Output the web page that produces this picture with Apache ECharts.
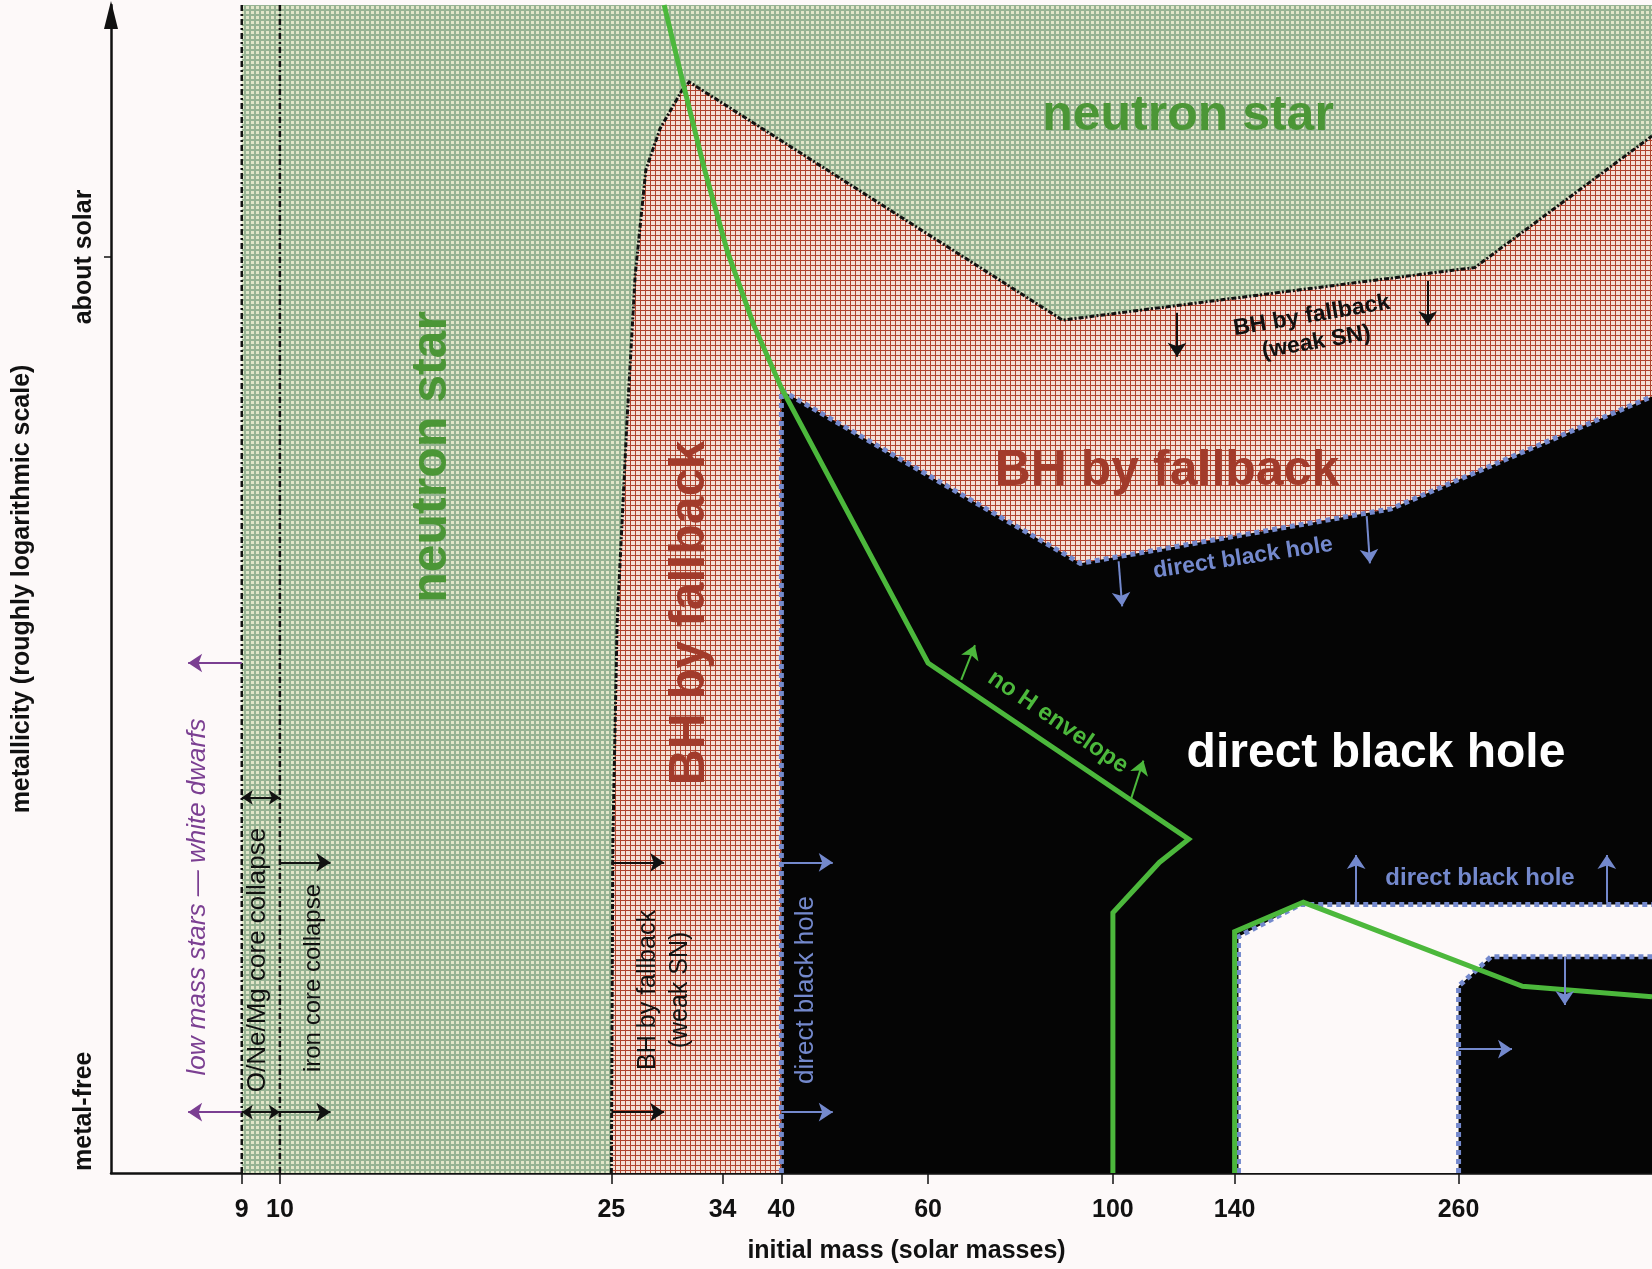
<!DOCTYPE html>
<html><head><meta charset="utf-8">
<script src="https://cdn.jsdelivr.net/npm/echarts@6/dist/echarts.min.js"></script>
<style>html,body{margin:0;padding:0;background:#fdf9f9}#c{width:1652px;height:1269px}</style>
</head><body><div id="c"></div>
<script>
// ---------- data ----------
const massTicks = [9, 10, 25, 34, 40, 60, 100, 140, 260];
const metallicityTickValues = [1];
const metallicityLabelValues = [0.0674, 1];
const metallicityLabelTexts = ['metal-free', 'about solar'];
const massMin = 6.27, massMax = 443.8, metalTop = 1.275;

const neutronStarRegion = [[9, 0], [9, 1.275], [443.8, 1.275], [443.8, 0]];
const fallbackBoundary = [[25, 0], [25.1, 0.36], [25.4, 0.6], [26.1, 0.82], [26.7, 0.98], [27.5, 1.095], [28.6, 1.14], [30.4, 1.182], [31.0, 1.191], [87, 0.931], [272, 0.9885], [443.8, 1.132]];
const directBoundary = [[40, 0], [40, 0.8545], [91.4, 0.6655], [215.7, 0.725], [443.8, 0.8477]];
const pairUpperBoundary = [[141.5, 0], [141.5, 0.258], [168, 0.2932], [443.8, 0.2932]];
const pairLowerBoundary = [[260, 0], [260, 0.2039], [284.4, 0.236], [443.8, 0.236]];
const lowMassLine = [[9, 0], [9, 1.275]];
const ironLine = [[10, 0], [10, 1.275]];
const noHEnvelopeLine = [[28.93, 1.275], [30.49, 1.189], [32.31, 1.097], [34.45, 1.006], [37.06, 0.9255], [40, 0.857], [60, 0.5567], [123.3, 0.3643], [113.7, 0.339], [100, 0.284], [100, 0]];
const noHEnvelopeLine2 = [[140, 0], [140, 0.2635], [169.3, 0.2955], [310.3, 0.2039], [443.8, 0.1924]];

const purpleArrows = [[[9, 0.5567], [7.76, 0.5567]], [[9, 0.0664], [7.76, 0.0664]]];
const doubleArrows = [[[9, 0.41], [10, 0.41]], [[9, 0.0664], [10, 0.0664]]];
const blackArrows = [[[10, 0.339], [11.5, 0.339]], [[10, 0.0664], [11.5, 0.0664]],
  [[25, 0.339], [28.93, 0.339]], [[25, 0.0664], [28.93, 0.0664]],
  [[119.4, 0.939], [119.4, 0.891]], [[238.8, 0.9737], [238.8, 0.9255]]];
const blueArrows = [[[40, 0.339], [46.1, 0.339]], [[40, 0.0664], [46.1, 0.0664]],
  [[101.6, 0.6678], [102.6, 0.6186]], [[201.7, 0.717], [203.5, 0.6655]],
  [[195.9, 0.2955], [195.9, 0.347]], [[391.7, 0.2955], [391.7, 0.347]],
  [[348.7, 0.236], [348.7, 0.1833]], [[260, 0.1352], [301.4, 0.1352]]];
const greenArrows = [[[65.76, 0.5384], [68.3, 0.5762]], [[105.1, 0.4078], [108.8, 0.4502]]];

// ---------- styles ----------
function makeTile(w, h, draw) { const c = document.createElement('canvas'); c.width = w; c.height = h; draw(c.getContext('2d')); return c; }
const greenTile = makeTile(5, 5, g => { g.fillStyle = '#97b393'; g.fillRect(0, 0, 5, 5); g.fillStyle = '#e2e6c9'; g.fillRect(1, 1, 3, 3); });
const redTile = makeTile(5, 5, g => { g.fillStyle = '#f4e0d6'; g.fillRect(0, 0, 5, 5); g.fillStyle = '#b0442f'; g.fillRect(0, 0, 5, 1); g.fillRect(0, 0, 1, 5); });
const greenFill = { image: greenTile, repeat: 'repeat' };
const redFill = { image: redTile, repeat: 'repeat' };
const BG = '#fdf9f9', BLACK = '#050505', BLUE = '#7489cd', GREEN = '#4cb83c', PURPLE = '#7b3f92';

function polySeries(pts, fill, z) {
  return { type: 'custom', coordinateSystem: 'cartesian2d', z, silent: true, clip: true,
    data: pts, encode: { x: 0, y: 1 },
    renderItem: (params, api) => params.dataIndex !== 0 ? null :
      { type: 'polygon', shape: { points: pts.map(p => api.coord(p)) }, style: { fill } } };
}
function lineSeries(pts, color, width, type, z) {
  return { type: 'line', data: pts, showSymbol: false, symbol: 'none', silent: true, z, clip: true,
    lineStyle: { color, width, type, cap: 'butt', join: 'miter' }, animation: false };
}
function arrowSeries(list, color, both, z) {
  return { type: 'lines', coordinateSystem: 'cartesian2d', z, silent: true,
    symbol: both ? ['arrow', 'arrow'] : ['none', 'arrow'], symbolSize: both ? 11 : 14,
    lineStyle: { color, width: 2, opacity: 1, curveness: 0 },
    data: list.map(c => ({ coords: c })) };
}
function txt(text, x, y, rot, font, fill, extra) {
  return Object.assign({ type: 'text', x, y, rotation: rot, z: 100, silent: true,
    style: Object.assign({ text, font, fill, align: 'center', verticalAlign: 'middle' }, extra || {}) });
}
const F = '"Liberation Sans", Arial, sans-serif';
const V = Math.PI / 2;

const chart = echarts.init(document.getElementById('c'), null, { renderer: 'canvas' });
chart.setOption({
  animation: false,
  backgroundColor: BG,
  grid: { left: 111, right: 0, top: 5, bottom: 91, containLabel: false },
  xAxis: {
    type: 'log', logBase: 10, min: massMin, max: massMax,
    name: 'initial mass (solar masses)', nameLocation: 'middle', nameGap: 66,
    nameTextStyle: { fontFamily: F, fontWeight: 'bold', fontSize: 25, color: '#111', padding: [0, 0, 0, 50] },
    axisLine: { show: true, onZero: false, lineStyle: { color: '#111', width: 2.5 } },
    axisTick: { show: true, customValues: massTicks, length: 11, lineStyle: { color: '#111', width: 1.5 } },
    axisLabel: { show: true, customValues: massTicks, margin: 25, fontFamily: F, fontWeight: 'bold', fontSize: 25, color: '#111',
      formatter: v => String(Math.round(v)) },
    splitLine: { show: false }, minorTick: { show: false }, minorSplitLine: { show: false }
  },
  yAxis: {
    type: 'value', min: 0, max: metalTop,
    name: 'metallicity (roughly logarithmic scale)', nameLocation: 'middle', nameGap: 76, nameRotate: 90,
    nameTextStyle: { fontFamily: F, fontWeight: 'bold', fontSize: 25, color: '#111' },
    axisLine: { show: true, symbol: ['none', 'triangle'], symbolSize: [14, 28], symbolOffset: [0, -10], lineStyle: { color: '#111', width: 2.5 } },
    axisTick: { show: true, customValues: metallicityTickValues, length: 7, lineStyle: { color: '#111', width: 1.5 } },
    axisLabel: { show: true, customValues: metallicityLabelValues, rotate: 90, margin: 14, fontFamily: F, fontWeight: 'bold', fontSize: 25, color: '#111',
      formatter: v => metallicityLabelTexts[metallicityLabelValues.indexOf(v)] || (v > 0.5 ? 'about solar' : 'metal-free') },
    splitLine: { show: false }
  },
  series: [
    polySeries(neutronStarRegion, greenFill, 1),
    polySeries(fallbackBoundary.concat([[443.8, 0]]), redFill, 2),
    polySeries(directBoundary.concat([[443.8, 0]]), BLACK, 3),
    polySeries([...pairUpperBoundary, ...pairLowerBoundary.slice().reverse()], BG, 4),
    lineSeries(lowMassLine, '#111', 2.5, [6, 3, 2, 3], 6),
    lineSeries(ironLine, '#111', 2.5, [6, 3, 2, 3], 6),
    lineSeries(fallbackBoundary, '#111', 3, [5, 2, 2, 2], 6),
    lineSeries(directBoundary, BLUE, 5, [5, 4], 6),
    lineSeries(pairUpperBoundary, BLUE, 5, [5, 4], 6),
    lineSeries(pairLowerBoundary, BLUE, 5, [5, 4], 6),
    lineSeries(noHEnvelopeLine, GREEN, 5, 'solid', 7),
    lineSeries(noHEnvelopeLine2, GREEN, 5, 'solid', 7),
    arrowSeries(purpleArrows, PURPLE, false, 8),
    arrowSeries(doubleArrows, '#111', true, 8),
    arrowSeries(blackArrows, '#111', false, 8),
    arrowSeries(blueArrows, BLUE, false, 8),
    arrowSeries(greenArrows, GREEN, false, 8)
  ],
  graphic: [
    txt('neutron star', 432, 457, V, 'bold 50px ' + F, '#4b9636'),
    txt('BH by fallback', 690, 613, V, 'bold 50px ' + F, '#a23b2b'),
    txt('neutron star', 1188, 116, 0, 'bold 50px ' + F, '#4b9636'),
    txt('BH by fallback', 1167, 471, 0, 'bold 50px ' + F, '#a23b2b'),
    txt('direct black hole', 1376, 754, 0, 'bold 48px ' + F, '#ffffff'),
    txt('BH by fallback\n(weak SN)', 1314, 329, 0.17, 'bold 23px ' + F, '#111', { lineHeight: 27 }),
    txt('direct black hole', 1243, 558, 0.15, 'bold 23px ' + F, BLUE),
    txt('no H envelope', 1058, 722, -0.6, 'bold 24px ' + F, GREEN),
    txt('direct black hole', 1480, 878, 0, 'bold 24px ' + F, BLUE),
    txt('low mass stars — white dwarfs', 198, 897, V, 'italic 26px ' + F, PURPLE),
    txt('O/Ne/Mg core collapse', 258, 960, V, '26px ' + F, '#111'),
    txt('iron core collapse', 313, 978, V, '24px ' + F, '#111'),
    txt('BH by fallback\n(weak SN)', 664, 990, V, '25px ' + F, '#111', { lineHeight: 32 }),
    txt('direct black hole', 806, 990, V, '26px ' + F, BLUE)
  ]
});
</script></body></html>
